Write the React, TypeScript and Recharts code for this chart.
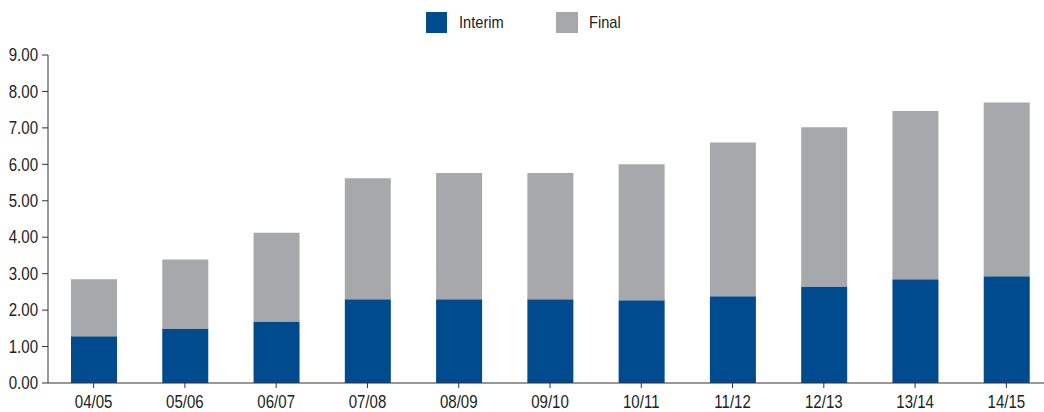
import React from "react";
import { BarChart, Bar, XAxis, YAxis } from "recharts";

const years = ["04/05", "05/06", "06/07", "07/08", "08/09", "09/10", "10/11", "11/12", "12/13", "13/14", "14/15"];
const interim = [1.28, 1.48, 1.69, 2.3, 2.3, 2.3, 2.27, 2.38, 2.65, 2.85, 2.93];
const final = [1.57, 1.91, 2.43, 3.32, 3.46, 3.46, 3.73, 4.22, 4.37, 4.61, 4.77];
const yTicks = [0, 1, 2, 3, 4, 5, 6, 7, 8, 9];

const COLORS = { interim: "#004b8d", final: "#a7a8ac" };
const FONT = '"Liberation Sans", Arial, sans-serif';
const SIZE = 17.5;
const SQUEEZE = 0.86;

const data = years.map((year, i) => ({ year, interim: interim[i], final: final[i] }));

// condensed look: the reference uses a narrow face, so squeeze horizontally
const XTick = (props: any) => {
  const { x, y, payload } = props;
  return (
    <text
      transform={`translate(${x},${y + 1}) scale(${SQUEEZE},1)`}
      textAnchor="middle"
      dy="0.71em"
      fontFamily={FONT}
      fontSize={SIZE}
      fill="#222"
    >
      {payload.value}
    </text>
  );
};

const YTick = (props: any) => {
  const { x, y, payload } = props;
  return (
    <text
      transform={`translate(${x},${y}) scale(${SQUEEZE},1)`}
      textAnchor="end"
      dy="0.355em"
      fontFamily={FONT}
      fontSize={SIZE}
      fill="#222"
    >
      {Number(payload.value).toFixed(2)}
    </text>
  );
};

const squeezed: React.CSSProperties = {
  display: "inline-block",
  transform: `scale(${SQUEEZE},1)`,
  transformOrigin: "left center",
  lineHeight: "21px",
};

const LegendBox = () => (
  <div
    style={{
      position: "absolute",
      top: 12,
      left: 426,
      display: "flex",
      alignItems: "center",
      fontFamily: FONT,
      fontSize: 17,
      color: "#222",
    }}
  >
    <span style={{ width: 21, height: 21, background: COLORS.interim, display: "inline-block" }} />
    <span style={{ ...squeezed, marginLeft: 12, width: 97 }}>Interim</span>
    <span style={{ width: 22, height: 21, background: COLORS.final, display: "inline-block" }} />
    <span style={{ ...squeezed, marginLeft: 11 }}>Final</span>
  </div>
);

export default function App() {
  return (
    <div
      style={{
        position: "fixed",
        left: 0,
        top: 0,
        width: 1044,
        height: 412,
        overflow: "hidden",
        background: "#fff",
      }}
    >
      <LegendBox />
      <BarChart
        width={1060}
        height={412}
        data={data}
        margin={{ top: 55, right: 8, left: 0, bottom: 0 }}
        barSize={46}
      >
        <XAxis
          dataKey="year"
          height={29}
          tickSize={5}
          tickMargin={7}
          axisLine={{ stroke: "#333" }}
          tickLine={{ stroke: "#333" }}
          tick={<XTick />}
          interval={0}
        />
        <YAxis
          width={48}
          domain={[0, 9]}
          ticks={yTicks}
          interval={0}
          tickSize={6}
          tickMargin={4}
          axisLine={{ stroke: "#333" }}
          tickLine={{ stroke: "#333" }}
          tick={<YTick />}
        />
        <Bar dataKey="interim" stackId="a" fill={COLORS.interim} isAnimationActive={false} />
        <Bar dataKey="final" stackId="a" fill={COLORS.final} isAnimationActive={false} />
      </BarChart>
    </div>
  );
}
